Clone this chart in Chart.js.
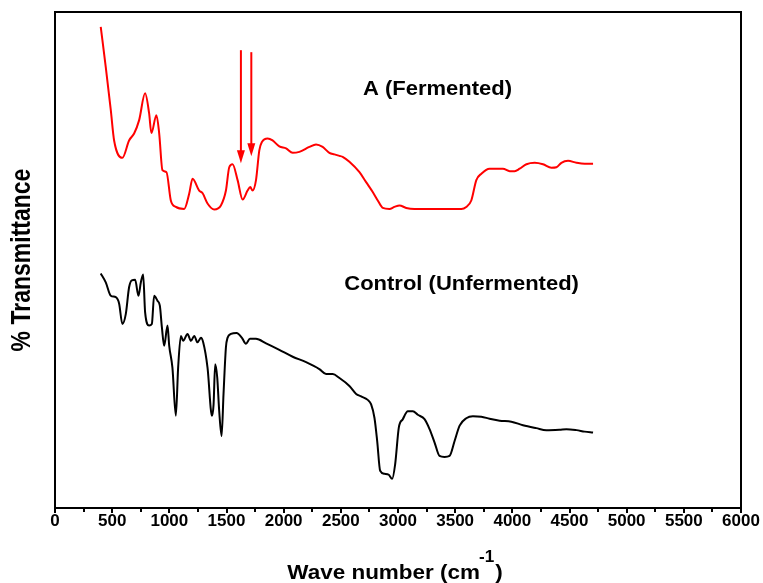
<!DOCTYPE html>
<html>
<head>
<meta charset="utf-8">
<script src="https://cdn.jsdelivr.net/npm/chart.js@4/dist/chart.umd.min.js"></script>
<style>
html,body{margin:0;padding:0;background:#fff;}
#wrap{width:763px;height:583px;position:relative;}
</style>
</head>
<body>
<div id="wrap"><canvas id="c" width="763" height="583"></canvas></div>
<script>
// ---- data ----
const waveA = [400,444,488,517,589,648,692,736,788,823,843,887,911,940,975,1013,1057,1130,1174,1203,1261,1290,1334,1393,1451,1495,1524,1553,1597,1641,1684,1708,1728,1758,1787,1810,1860,1903,1962,2021,2079,2137,2225,2283,2341,2400,2444,2488,2516,2575,2663,2721,2779,2823,2867,2925,2969,3013,3072,3144,3276,3422,3554,3597,3641,3685,3729,3801,3918,3977,4020,4064,4123,4196,4268,4342,4386,4429,4487,4561,4633,4706];
const transA = [97.0,88.9,80.2,74.1,70.6,74.1,75.5,78.2,83.6,79.6,75.6,79.2,75.6,68.1,67.7,62.0,60.7,60.3,63.4,66.4,64.0,63.5,61.4,60.2,61.0,64.0,68.7,69.3,66.1,62.2,64.0,64.7,64.0,66.1,72.1,73.8,74.5,74.1,72.9,72.5,71.6,71.8,72.8,73.3,72.8,71.6,71.3,71.0,70.8,69.8,67.7,65.7,63.7,62.0,60.5,60.3,60.7,61.0,60.5,60.3,60.3,60.3,60.3,60.7,62.0,66.1,67.4,68.4,68.4,67.9,67.9,68.4,69.3,69.6,69.3,68.6,68.7,69.6,70.0,69.6,69.4,69.4];

const waveControl = [400,444,488,532,561,589,619,648,672,701,730,751,771,788,823,847,867,896,917,935,955,984,999,1027,1057,1077,1101,1121,1159,1189,1218,1246,1276,1296,1334,1373,1387,1401,1419,1436,1457,1474,1495,1509,1539,1588,1635,1670,1705,1758,1846,1962,2079,2196,2312,2371,2429,2488,2575,2634,2678,2735,2765,2794,2818,2844,2882,2919,2949,2975,3007,3042,3086,3130,3173,3232,3276,3320,3363,3407,3451,3495,3539,3597,3655,3729,3801,3889,3991,4093,4210,4298,4414,4473,4561,4633,4706];
const transControl = [47.3,45.5,42.8,42.5,41.2,37.1,39.1,44.5,45.9,46.0,42.8,45.5,47.1,39.5,36.8,37.1,42.8,41.8,40.8,36.4,32.7,36.8,32.7,28.3,18.6,28.3,34.7,33.7,35.1,33.7,34.7,33.4,34.3,33.4,28.3,18.6,20.9,29.0,26.3,19.6,14.5,23.0,32.4,34.3,35.1,35.3,34.3,33.1,34.1,34.1,33.2,31.9,30.5,29.4,28.0,27.0,27.0,26.2,24.6,23.0,22.5,21.8,20.9,18.2,13.5,7.5,6.9,6.7,5.9,8.8,16.2,17.9,19.5,19.5,18.8,17.9,15.9,13.2,10.5,10.3,10.5,13.5,16.6,18.1,18.5,18.4,18.0,17.6,17.4,16.7,16.1,15.7,15.8,15.9,15.7,15.4,15.2];

const xTickMin = 0, xTickMax = 6000, xTickStep = 500;

const arrowWave = [1626, 1717];
const arrowFrom = [92.3, 91.9];
const arrowTo = [69.5, 70.9];

const labelText = ["A (Fermented)", "Control (Unfermented)"];
const labelWave = [3346, 3556];
const labelTrans = [84.4, 45.1];

const xTitleMain = "Wave number (cm";
const xTitleSup = "-1";
const xTitleEnd = ")";
const yTitle = "% Transmittance";

// ---- build ----
const toPts = (xs, ys) => xs.map((x, i) => ({x: x, y: ys[i]}));
const FONT = "'Liberation Sans', Arial, sans-serif";
const STRETCH = 1.1;

const decorPlugin = {
  id: 'decor',
  afterDatasetsDraw(chart) {
    const ctx = chart.ctx;
    const xs = chart.scales.x, ys = chart.scales.y;
    ctx.save();
    // arrows
    ctx.strokeStyle = '#ff0000';
    ctx.fillStyle = '#ff0000';
    ctx.lineWidth = 2;
    for (let i = 0; i < arrowWave.length; i++) {
      const px = xs.getPixelForValue(arrowWave[i]);
      const y0 = ys.getPixelForValue(arrowFrom[i]);
      const y1 = ys.getPixelForValue(arrowTo[i]);
      ctx.beginPath();
      ctx.moveTo(px, y0);
      ctx.lineTo(px, y1 - 10);
      ctx.stroke();
      ctx.beginPath();
      ctx.moveTo(px - 4, y1 - 13);
      ctx.lineTo(px + 4, y1 - 13);
      ctx.lineTo(px, y1);
      ctx.closePath();
      ctx.fill();
    }
    // curve labels
    ctx.fillStyle = '#000';
    ctx.font = 'bold 20px ' + FONT;
    ctx.textAlign = 'center';
    ctx.textBaseline = 'middle';
    for (let i = 0; i < labelText.length; i++) {
      const px = xs.getPixelForValue(labelWave[i]);
      const py = ys.getPixelForValue(labelTrans[i]);
      ctx.save();
      ctx.translate(px, py);
      ctx.scale(STRETCH, 1);
      ctx.fillText(labelText[i], 0, 0);
      ctx.restore();
    }
    ctx.restore();
  },
  afterDraw(chart) {
    const ctx = chart.ctx;
    const xs = chart.scales.x;
    const a = chart.chartArea;
    ctx.save();
    // frame
    ctx.strokeStyle = '#000';
    ctx.lineWidth = 2;
    ctx.strokeRect(a.left, a.top, a.right - a.left, a.bottom - a.top);
    // minor ticks
    ctx.beginPath();
    for (let v = xTickMin + xTickStep / 2; v < xTickMax; v += xTickStep) {
      const px = Math.round(xs.getPixelForValue(v));
      ctx.moveTo(px, a.bottom);
      ctx.lineTo(px, a.bottom + 4);
    }
    ctx.stroke();
    // x title with superscript
    const TS = 1.07;
    ctx.fillStyle = '#000';
    ctx.textBaseline = 'alphabetic';
    ctx.textAlign = 'left';
    ctx.font = 'bold 21px ' + FONT;
    const w1 = ctx.measureText(xTitleMain).width;
    const w3 = ctx.measureText(xTitleEnd).width;
    ctx.font = 'bold 16px ' + FONT;
    const w2 = ctx.measureText(xTitleSup).width;
    const total = (w1 + w2 + w3);
    const cx = (a.left + a.right) / 2 - 3;
    ctx.save();
    ctx.translate(cx, 579);
    ctx.scale(TS, 1);
    const x0 = -total / 2;
    ctx.font = 'bold 21px ' + FONT;
    ctx.fillText(xTitleMain, x0, 0);
    ctx.font = 'bold 16px ' + FONT;
    ctx.fillText(xTitleSup, x0 + w1 - 1, -17);
    ctx.font = 'bold 21px ' + FONT;
    ctx.fillText(xTitleEnd, x0 + w1 + w2, 0);
    ctx.restore();
    // y title
    ctx.save();
    ctx.translate(22, (a.top + a.bottom) / 2);
    ctx.scale(1.2, 1);
    ctx.rotate(-Math.PI / 2);
    ctx.font = 'bold 23px ' + FONT;
    ctx.textAlign = 'center';
    ctx.textBaseline = 'middle';
    ctx.fillText(yTitle, 0, 0);
    ctx.restore();
    ctx.restore();
  }
};

new Chart(document.getElementById('c'), {
  type: 'line',
  data: {
    datasets: [
      {label: 'A (Fermented)', data: toPts(waveA, transA), borderColor: '#ff0000', borderWidth: 2, pointRadius: 0, cubicInterpolationMode: 'monotone', fill: false},
      {label: 'Control (Unfermented)', data: toPts(waveControl, transControl), borderColor: '#000000', borderWidth: 2, pointRadius: 0, cubicInterpolationMode: 'monotone', fill: false}
    ]
  },
  options: {
    responsive: false,
    animation: false,
    devicePixelRatio: 1,
    layout: {padding: {left: 55, right: 22, top: 12, bottom: 0}},
    plugins: {legend: {display: false}, tooltip: {enabled: false}},
    scales: {
      x: {
        type: 'linear',
        min: xTickMin, max: xTickMax,
        ticks: {stepSize: xTickStep, color: '#000', padding: 0, maxRotation: 0, autoSkip: false,
                font: {family: FONT, size: 17, weight: 'bold', lineHeight: 1},
                callback: (v) => String(v)},
        grid: {display: true, drawOnChartArea: false, drawTicks: true, tickLength: 5, color: '#000', lineWidth: 2},
        border: {display: true, color: '#000', width: 2},
        afterFit: (s) => { s.height = 75; }
      },
      y: {
        type: 'linear', min: 0, max: 100, display: false
      }
    }
  },
  plugins: [decorPlugin]
});
</script>
</body>
</html>
